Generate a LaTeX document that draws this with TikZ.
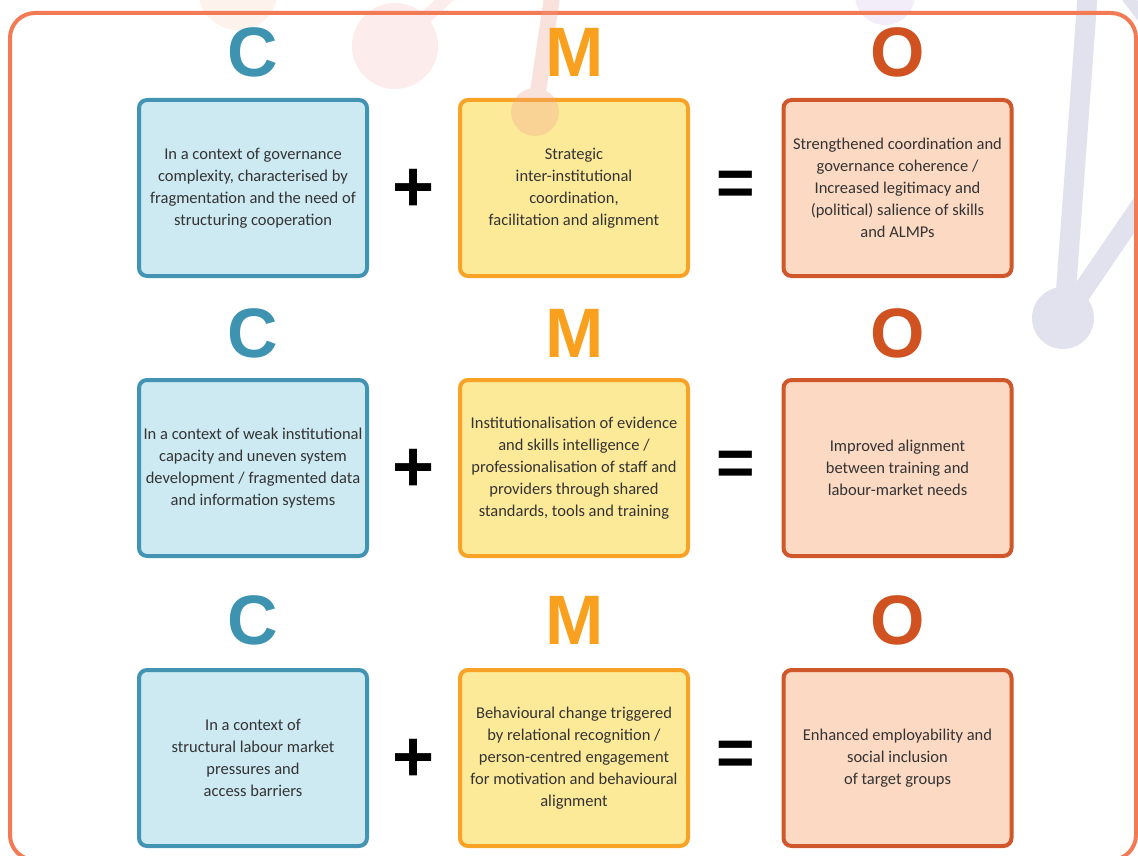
\documentclass[tikz,border=0pt]{standalone}
\usepackage{fontspec}
\setmainfont{Carlito}
\newfontfamily\letterfont{Liberation Sans}
\definecolor{frameC}{HTML}{F27A55}
\definecolor{cbord}{HTML}{4394B2}
\definecolor{cfill}{HTML}{CDEAF2}
\definecolor{mbord}{HTML}{F8A325}
\definecolor{mfill}{HTML}{FDEA99}
\definecolor{obord}{HTML}{D05729}
\definecolor{ofill}{HTML}{FCD9C3}
\definecolor{cletter}{HTML}{3E93B1}
\definecolor{mletter}{HTML}{F9A11E}
\definecolor{oletter}{HTML}{CF5220}
\definecolor{txt}{HTML}{333333}
\definecolor{lav}{HTML}{E2E2EE}
\definecolor{lavlight}{HTML}{F2EDF8}
\definecolor{peach}{HTML}{FDF2EC}
\definecolor{pinkdeco}{HTML}{FDECEC}
\definecolor{salmon}{HTML}{F0A08C}
\begin{document}
\begin{tikzpicture}[x=1pt,y=-1pt,
  box/.style={draw, line width=4pt, rounded corners=8pt, minimum width=228pt,
    minimum height=176pt, align=center, inner sep=1pt, text=txt,
    font=\fontsize{16.5}{22}\selectfont},
  cbox/.style={box, draw=cbord, fill=cfill},
  mbox/.style={box, draw=mbord, fill=mfill},
  obox/.style={box, draw=obord, fill=ofill},
  letter/.style={inner sep=0pt, font=\letterfont\bfseries\fontsize{70}{70}\selectfont},
  plussign/.style={inner sep=0pt, text=black, font=\letterfont\bfseries\fontsize{72}{72}\selectfont},
  eqsign/.style={inner sep=0pt, text=black, font=\letterfont\bfseries\fontsize{66}{66}\selectfont}
]
\useasboundingbox (0,0) rectangle (1138,856);

% faint background decorations
\fill[peach] (238,-10) circle[radius=40pt];
\fill[pinkdeco] (395,46) circle[radius=43pt];
\draw[pinkdeco, line width=13pt] (395,46) -- (455,-10);
\fill[lavlight] (885,-5) circle[radius=30pt];
\draw[lav, line width=20pt] (1088,-10) -- (1064,318);
\draw[lav, line width=20pt] (1064,318) -- (1165,170);
\draw[lav, line width=12pt] (1122,-10) -- (1145,20);
\fill[lav] (1063,318) circle[radius=31pt];

% outer frame
\draw[frameC, line width=4pt, rounded corners=25pt] (10,13) rectangle (1136,860);

% boxes
\node[cbox] (c1) at (253,188) {In a context of governance\\complexity, characterised by\\fragmentation and the need of\\structuring cooperation};
\node[mbox] (m1) at (574,188) {Strategic\\inter-institutional\\coordination,\\facilitation and alignment};
\node[obox] (o1) at (897.5,188) {Strengthened coordination and\\governance coherence /\\Increased legitimacy and\\(political) salience of skills\\and ALMPs};

\node[cbox] (c2) at (253,468) {In a context of weak institutional\\capacity and uneven system\\development / fragmented data\\and information systems};
\node[mbox] (m2) at (574,468) {Institutionalisation of evidence\\and skills intelligence /\\professionalisation of staff and\\providers through shared\\standards, tools and training};
\node[obox] (o2) at (897.5,468) {Improved alignment\\between training and\\labour-market needs};

\node[cbox] (c3) at (253,758) {In a context of\\structural labour market\\pressures and\\access barriers};
\node[mbox] (m3) at (574,758) {Behavioural change triggered\\by relational recognition /\\person-centred engagement\\for motivation and behavioural\\alignment};
\node[obox] (o3) at (897.5,758) {Enhanced employability and\\social inclusion\\of target groups};

% translucent decoration over the middle box
\begin{scope}[transparency group, opacity=0.3]
\draw[salmon, line width=16pt] (553,-10) -- (535,112);
\fill[salmon] (535,112) circle[radius=24pt];
\end{scope}

% letters
\foreach \r/\y in {1/52, 2/333, 3/620} {
  \node[letter, text=cletter] (lc\r) at (253,\y) {C};
  \node[letter, text=mletter] (lm\r) at (575,\y) {M};
  \node[letter, text=oletter] (lo\r) at (897.5,\y) {O};
}

% operators
\foreach \r/\y in {1/190, 2/470, 3/760} {
  \node[plussign] (plus\r) at (414,\y) {+};
  \node[eqsign] (eq\r) at (736,\y-2) {=};
}
\end{tikzpicture}
\end{document}
